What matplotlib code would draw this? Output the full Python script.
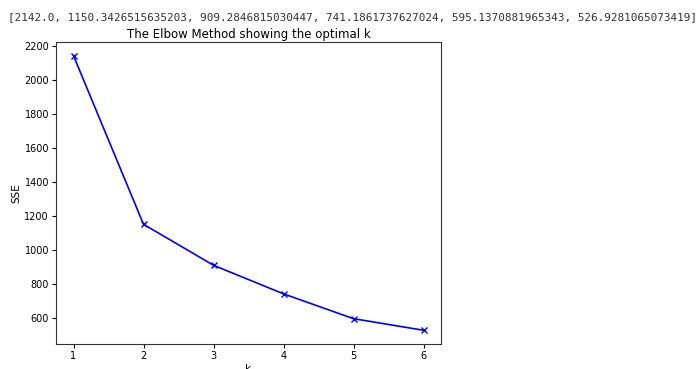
import matplotlib
matplotlib.use("Agg")
import matplotlib.pyplot as plt

# k values and SSE from the printed list
K = [1, 2, 3, 4, 5, 6]
sse = [2142.0, 1150.3426515635203, 909.2846815030447, 741.1861737627024,
       595.1370881965343, 526.9281065073419]

fig = plt.figure(figsize=(6.97, 3.69), dpi=100)
fig.text(8/697, 1 - 17/369, str(sse), family="DejaVu Sans Mono", fontsize=7.9,
         va="center", ha="left", color="#333333")

ax = fig.add_axes([56/697, 1 - 344/369, (441-56)/697, (344-42)/369])
ax.plot(K, sse, 'bx-', lw=1.2, ms=5)
ax.set_xlabel('k', fontsize=7.5, labelpad=2)
ax.set_ylabel('SSE', fontsize=7.5, labelpad=2)
ax.set_title('The Elbow Method showing the optimal k', fontsize=8.5, pad=3)
ax.tick_params(labelsize=7, length=3, pad=2)
for s in ax.spines.values():
    s.set_linewidth(0.8)
    s.set_color('#333333')

fig.savefig('out.png', dpi=100)
